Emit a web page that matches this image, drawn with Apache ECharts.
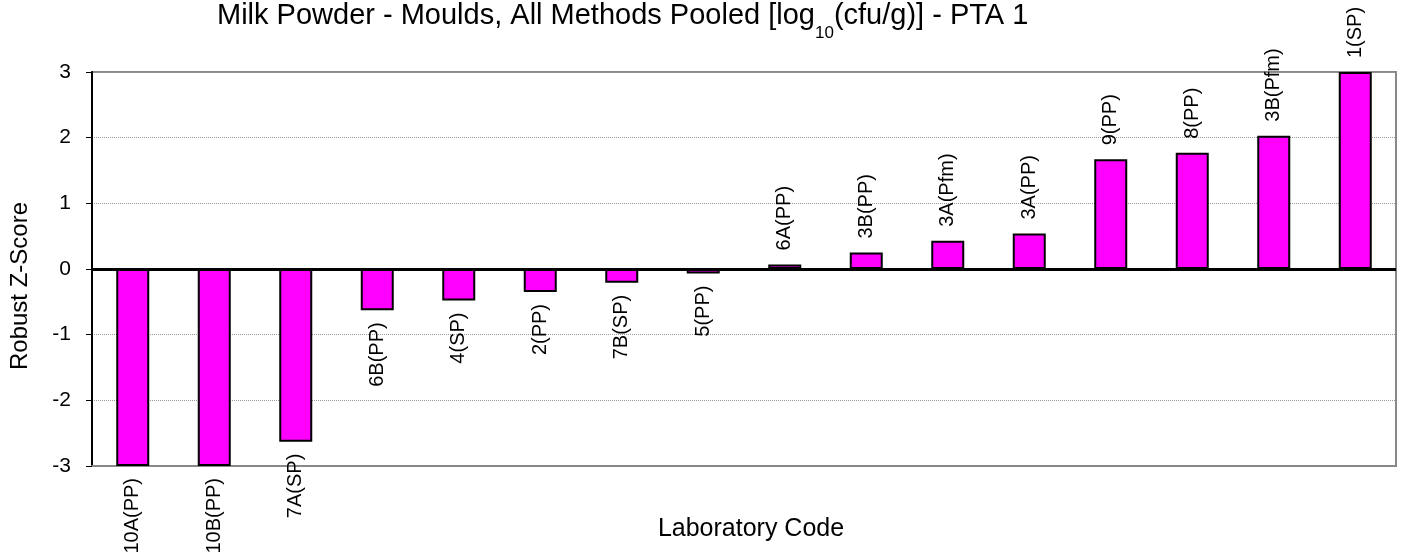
<!DOCTYPE html>
<html>
<head>
<meta charset="utf-8">
<script src="https://cdn.jsdelivr.net/npm/echarts@6/dist/echarts.min.js"></script>
<style>
  html, body { margin: 0; padding: 0; background: #fff; }
  #chart-container { width: 1407px; height: 560px; }
</style>
</head>
<body>
<div id="chart-container"></div>
<script>
// lab codes in plotted order, and their robust z-scores
const labCodes = ['10A(PP)', '10B(PP)', '7A(SP)', '6B(PP)', '4(SP)', '2(PP)', '7B(SP)', '5(PP)',
  '6A(PP)', '3B(PP)', '3A(Pfm)', '3A(PP)', '9(PP)', '8(PP)', '3B(Pfm)', '1(SP)'];
const zScores = [-3, -3, -2.63, -0.63, -0.48, -0.35, -0.21, -0.07,
  0.07, 0.25, 0.43, 0.54, 1.67, 1.77, 2.03, 3];
const yMin = -3;
const yMax = 3;
const yStep = 1;

const font = "'Liberation Sans', Arial, sans-serif";

const initChart = () => {
  const dom = document.getElementById('chart-container');
  return echarts.init(dom, null, { renderer: 'canvas' });
};

const barData = zScores.map((v) => ({
  value: v,
  // labels sit past the end of the bar, reading bottom to top
  label: v < 0
    ? { position: 'bottom', align: 'right', distance: 12 }
    : { position: 'top', align: 'left', distance: 14 },
}));

const option = {
  animation: false,
  title: {
    text: '{t|Milk Powder - Moulds, All Methods Pooled [log}{s|10}{t|(cfu/g)] - PTA 1}',
    left: 217,
    top: 1,
    padding: 0,
    textStyle: {
      fontWeight: 'normal',
      rich: {
        t: { fontFamily: font, fontSize: 29, fontWeight: 'normal', color: '#000', lineHeight: 41, verticalAlign: 'top' },
        s: { fontFamily: font, fontSize: 17, fontWeight: 'normal', color: '#000', lineHeight: 17, verticalAlign: 'bottom' },
      },
    },
  },
  grid: {
    left: 89,
    right: 11,
    top: 72,
    bottom: 94,
    show: true,
    borderColor: '#888',
    borderWidth: 2,
  },
  xAxis: {
    type: 'category',
    data: labCodes,
    name: 'Laboratory Code',
    nameLocation: 'middle',
    nameGap: 51,
    nameTextStyle: { fontFamily: font, fontSize: 25, color: '#000', padding: [0, 0, 0, 14] },
    axisLine: { onZero: false, lineStyle: { color: '#888', width: 2 } },
    axisTick: { show: false },
    axisLabel: { show: false },
  },
  yAxis: {
    type: 'value',
    min: yMin,
    max: yMax,
    interval: yStep,
    name: 'Robust Z-Score',
    nameLocation: 'middle',
    nameGap: 60,
    nameTextStyle: { fontFamily: font, fontSize: 24, color: '#000', padding: [0, 34, 0, 0] },
    axisLine: { show: true, lineStyle: { color: '#000', width: 2 } },
    axisTick: { show: true, length: 6, lineStyle: { color: '#000', width: 1 } },
    axisLabel: { fontFamily: font, fontSize: 21, color: '#000', margin: 21 },
    splitLine: { lineStyle: { color: '#999', width: 1, type: 'dotted' } },
  },
  series: [
    {
      type: 'bar',
      data: barData,
      barWidth: 33,
      itemStyle: { color: '#FF00FF', borderColor: '#000', borderWidth: 2 },
      label: {
        show: true,
        rotate: 90,
        verticalAlign: 'middle',
        fontFamily: font,
        fontSize: 20,
        color: '#000',
        formatter: (p) => labCodes[p.dataIndex],
      },
      markLine: {
        silent: true,
        symbol: 'none',
        label: { show: false },
        lineStyle: { color: '#000', width: 3, type: 'solid' },
        data: [{ yAxis: 0 }],
      },
    },
  ],
};

const chart = initChart();
chart.setOption(option);
</script>
</body>
</html>
